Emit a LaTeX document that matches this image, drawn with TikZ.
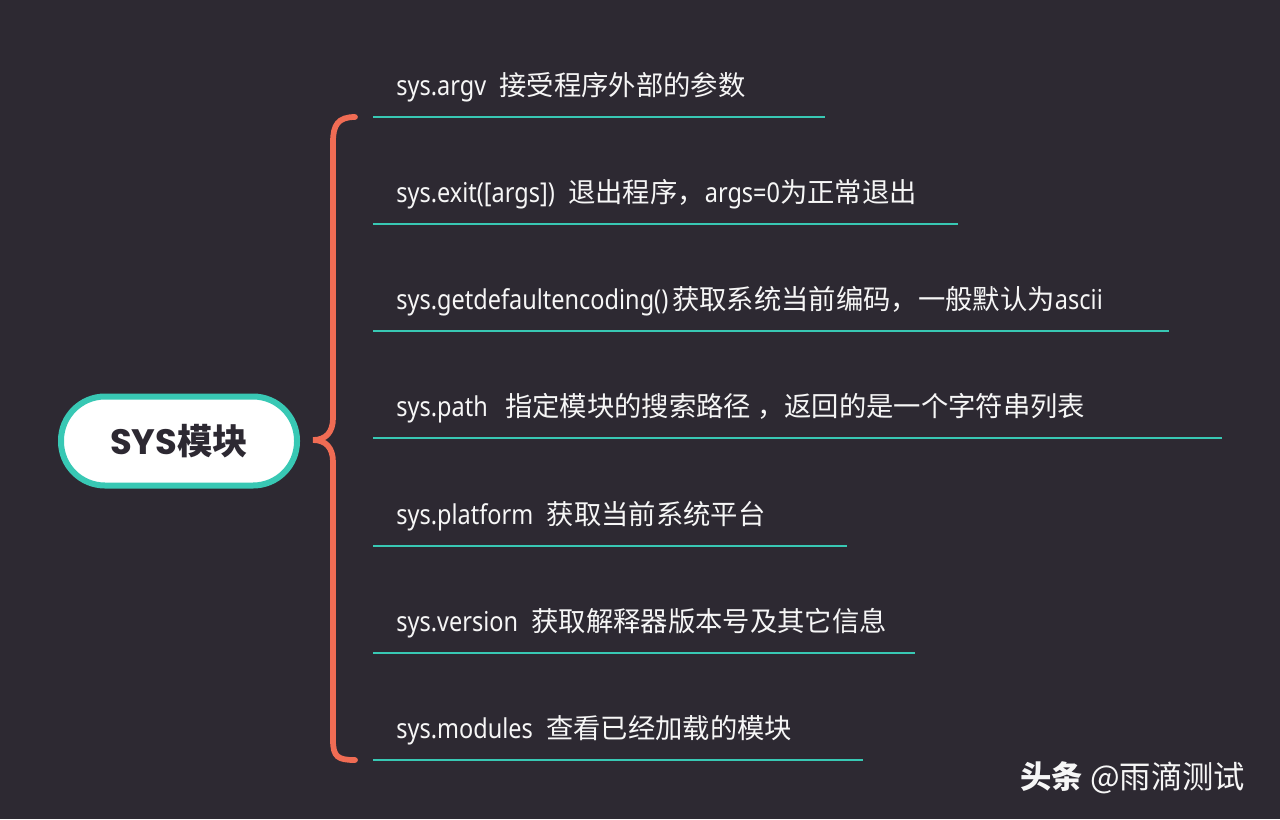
\documentclass[tikz,border=0pt]{standalone}
\usepackage{fontspec}
\setmainfont{Noto Sans CJK SC}
\newfontfamily\lat{Noto Sans}[FakeStretch=0.86]
\newfontfamily\rootlat{Poppins}
\definecolor{bgdark}{RGB}{45,41,50}
\definecolor{mapteal}{RGB}{56,200,180}
\definecolor{bracered}{RGB}{240,108,84}
\definecolor{itemwhite}{RGB}{246,246,246}
\newcommand{\sep}{\hspace{10pt}}

\begin{document}
\begin{tikzpicture}[x=0.75pt, y=-0.75pt, line width=0.5pt]
\tikzset{
  rootbox/.style={draw=mapteal, line width=4.5pt, fill=white, rounded corners=33pt, minimum width=177pt, minimum height=66.75pt, inner sep=0pt, text=bgdark, font=\fontsize{26.5}{30}\selectfont\bfseries},
  itemtext/.style={anchor=base west, inner sep=0pt, text=itemwhite, font=\fontsize{20.5}{24}\selectfont},
  uline/.style={draw=mapteal, line width=2.1pt},
  bracepath/.style={draw=bracered, line width=4.3pt, line cap=round},
  markstyle/.style={anchor=base west, inner sep=0pt, text=itemwhite, font=\fontsize{23.5}{28}\selectfont}
}
\fill[bgdark] (0,0) rectangle (1280,819);
\useasboundingbox (0,0) rectangle (1280,819);

\node[rootbox] (root) at (179,441) {{\rootlat SYS}模块};

% brace
\coordinate (tip) at (313,440);
\coordinate (btop) at (355,117);
\coordinate (bbot) at (355,760);
\draw[bracepath] (btop) .. controls (338,117) and (333,125) .. (333,142) -- (333,418)
  .. controls (333,432) and (326,440) .. (tip)
  .. controls (326,440) and (333,448) .. (333,462) -- (333,740)
  .. controls (333,757) and (338,760) .. (bbot);

\node[itemtext] (i1) at (396,95) {{\lat sys.argv}\sep 接受程序外部的参数};
\node[itemtext] (i2) at (396,202) {{\lat sys.exit([args])}\sep 退出程序，{\lat args=0}为正常退出};
\node[itemtext] (i3) at (396,309) {{\lat sys.getdefaultencoding()}\hspace{3pt}获取系统当前编码，一般默认为{\lat ascii}};
\node[itemtext] (i4) at (396,416) {{\lat sys.path}\hspace{13pt}指定模块的搜索路径 ，返回的是一个字符串列表};
\node[itemtext] (i5) at (396,524) {{\lat sys.platform}\sep 获取当前系统平台};
\node[itemtext] (i6) at (396,631) {{\lat sys.version}\sep 获取解释器版本号及其它信息};
\node[itemtext] (i7) at (396,738) {{\lat sys.modules}\sep 查看已经加载的模块};

% underlines
\coordinate (ustart) at (373,0);
\coordinate (e1) at (825,117);
\coordinate (e2) at (958,224);
\coordinate (e3) at (1169,331);
\coordinate (e4) at (1222,438);
\coordinate (e5) at (847,546);
\coordinate (e6) at (915,653);
\coordinate (e7) at (863,760);
\draw[uline] (ustart |- e1) -- (e1);
\draw[uline] (ustart |- e2) -- (e2);
\draw[uline] (ustart |- e3) -- (e3);
\draw[uline] (ustart |- e4) -- (e4);
\draw[uline] (ustart |- e5) -- (e5);
\draw[uline] (ustart |- e6) -- (e6);
\draw[uline] (ustart |- e7) -- (e7);

\node[markstyle] (mark) at (1020,788) {\textbf{头条} @雨滴测试};
\end{tikzpicture}
\end{document}
